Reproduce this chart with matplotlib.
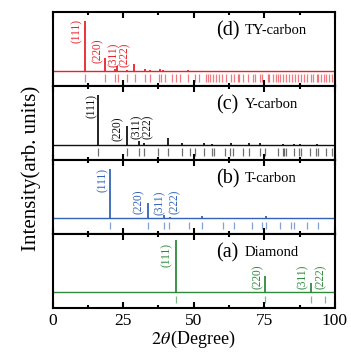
import matplotlib
matplotlib.use("Agg")
import matplotlib.pyplot as plt
from matplotlib.ticker import MultipleLocator

plt.rcParams['font.family'] = ['Liberation Serif', 'DejaVu Serif']
plt.rcParams['mathtext.fontset'] = 'stix'

# ---------------- data ----------------
hkl = ['(111)', '(220)', '(311)', '(222)']

# (d) TY-carbon
ty_peak_x = [11.4, 18.7, 22.0, 22.9, 26.5, 29.0, 32.6, 34.4, 37.9, 39.1, 47.9]
ty_peak_h = [1.0, 0.25, 0.04, 0.10, 0.02, 0.13, 0.03, 0.02, 0.03, 0.02, 0.02]
ty_marks = [11.4, 18.7, 22.0, 23.0, 26.5, 29.1, 32.6, 34.4, 37.7, 38.5, 39.7,
            42.4, 43.6, 45.0, 47.9, 50.3, 51.8, 54.4, 55.0, 55.9, 56.8, 57.9,
            59.1, 60.1, 61.5, 63.2, 64.4, 65.6, 66.2, 67.6, 69.1, 70.9, 71.8,
            73.3, 74.2, 76.2, 76.8, 78.0, 79.1, 79.7, 80.6, 81.8, 82.7, 83.6,
            84.8, 86.0, 87.1, 88.0, 89.1, 90.3, 91.5, 92.1, 93.5, 94.2, 95.0,
            96.2, 97.0, 98.0, 98.9]

# (c) Y-carbon
y_peak_x = [15.9, 26.2, 30.7, 32.2, 40.8, 46.0, 53.8, 56.4, 63.2, 69.5, 73.5,
            81.8, 85.4, 87.7, 93.6]
y_peak_h = [1.0, 0.37, 0.07, 0.04, 0.14, 0.04, 0.03, 0.02, 0.03, 0.03, 0.03,
            0.02, 0.02, 0.02, 0.02]
y_marks = [15.9, 26.2, 30.7, 32.2, 37.4, 40.8, 45.9, 48.6, 50.4, 53.6, 56.4,
           57.1, 60.9, 63.0, 63.8, 67.4, 69.5, 73.5, 75.3, 79.7, 81.5, 82.1,
           82.7, 85.4, 87.4, 88.0, 91.3, 93.3, 94.1, 97.0, 98.9]

# (b) T-carbon
t_peak_x = [20.4, 33.7, 39.6, 41.5, 53.0, 60.2, 64.2, 75.7, 85.4]
t_peak_h = [1.0, 0.30, 0.07, 0.03, 0.05, 0.01, 0.01, 0.04, 0.01]
t_marks = [20.4, 33.8, 39.5, 41.4, 48.3, 53.0, 60.2, 64.2, 70.7, 74.3, 75.7,
           80.7, 84.4, 85.4, 90.2, 94.0]

# (a) Diamond
d_peak_x = [43.8, 75.2, 91.4]
d_peak_h = [1.05, 0.33, 0.18]
d_marks = [43.8, 75.2, 91.4, 96.6]

panel_tags = ['(d)', '(c)', '(b)', '(a)']
panel_names = ['TY-carbon', 'Y-carbon', 'T-carbon', 'Diamond']

x_ticks = [0, 25, 50, 75, 100]

# ---------------- layout ----------------
colors = ['#e8232b', '#111111', '#3363b8', '#2f8a3c']
label_pos = [
    [(8.5, 0.56), (16.1, 0.16), (21.7, 0.08), (25.5, 0.08)],
    [(13.8, 0.53), (23.2, 0.07), (29.7, 0.12), (33.8, 0.12)],
    [(17.9, 0.53), (30.6, 0.08), (37.8, 0.06), (43.4, 0.08)],
    [(40.6, 0.50), (72.7, 0.07), (88.6, 0.07), (95.0, 0.07)],
]
peaks = [(ty_peak_x, ty_peak_h, ty_marks),
         (y_peak_x, y_peak_h, y_marks),
         (t_peak_x, t_peak_h, t_marks),
         (d_peak_x, d_peak_h, d_marks)]

fig = plt.figure(figsize=(3.51, 3.58), dpi=100)
axes = fig.subplots(4, 1, sharex=True,
                    gridspec_kw=dict(left=0.150, right=0.954, top=0.966,
                                     bottom=0.140, hspace=0))

for i, ax in enumerate(axes):
    px, ph, mk = peaks[i]
    c = colors[i]
    ax.axhline(0, color=c, lw=1.0, zorder=2)
    ax.vlines(px, 0, ph, color=c, lw=1.3, zorder=3)
    ax.vlines(mk, -0.22, -0.07, color=c, lw=0.9, alpha=0.6, zorder=2)
    for (lx, ly), t in zip(label_pos[i], hkl):
        ax.text(lx, ly, t, rotation=90, ha='center', va='bottom',
                fontsize=8.3, color=c)
    ax.text(57.8, 0.80, panel_tags[i], fontsize=14.5, va='center', ha='left')
    ax.text(68.0, 0.80, panel_names[i], fontsize=10.5, va='center', ha='left')
    ax.set_xlim(0, 100)
    ax.set_ylim(-0.31, 1.17)
    ax.set_yticks([])
    ax.xaxis.set_major_locator(MultipleLocator(25))
    ax.xaxis.set_minor_locator(MultipleLocator(12.5))
    ax.tick_params(axis='x', which='both', direction='in', top=True,
                   bottom=True, width=1.5)
    ax.tick_params(axis='x', which='major', length=4)
    ax.tick_params(axis='x', which='minor', length=2)
    for s in ax.spines.values():
        s.set_linewidth(1.5)

axes[-1].set_xticks(x_ticks)
axes[-1].set_xticklabels([str(v) for v in x_ticks], fontsize=12.5)
axes[-1].set_xlabel(r'$2\theta\,$(Degree)', fontsize=13, labelpad=0)
fig.text(0.088, 0.530, 'Intensity(arb. units)', rotation=90, fontsize=15,
         ha='center', va='center')

fig.savefig('out.png', dpi=100)
